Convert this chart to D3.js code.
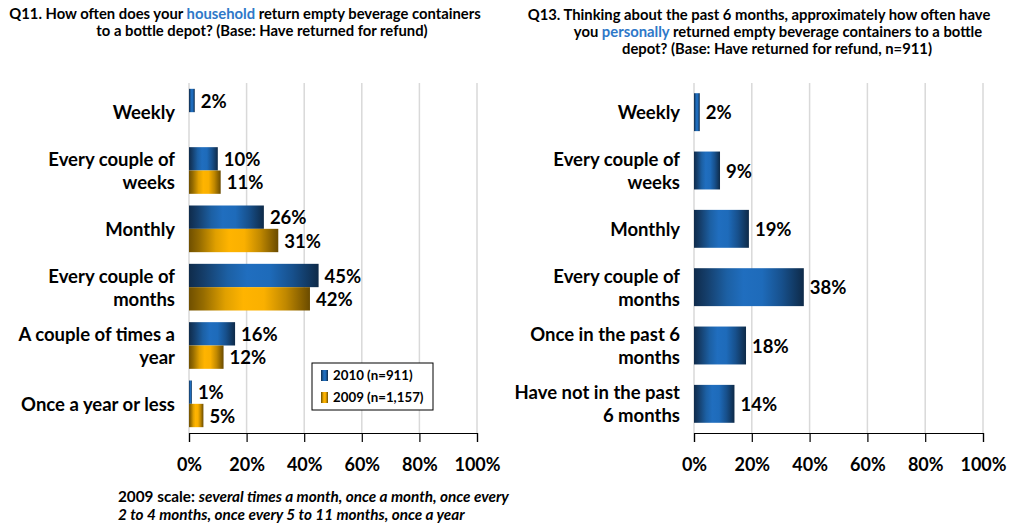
<!DOCTYPE html>
<html>
<head>
<meta charset="utf-8">
<script src="https://cdn.jsdelivr.net/npm/d3@7"></script>
<style>
  body { margin: 0; background: #fff; }
  svg text { font-family: Lato, 'Noto Sans', sans-serif; fill: #000; }
</style>
</head>
<body>
<svg id="chart" width="1010" height="525"></svg>
<script>
// Q11 household (left)
const q11Categories = ['Weekly', 'Every couple of weeks', 'Monthly', 'Every couple of months', 'A couple of times a year', 'Once a year or less']
const q11Labels = [['Weekly'], ['Every couple of', 'weeks'], ['Monthly'], ['Every couple of', 'months'], ['A couple of times a', 'year'], ['Once a year or less']]
const q11Values2010 = [2, 10, 26, 45, 16, 1]
const q11Values2009 = [null, 11, 31, 42, 12, 5]
const seriesNames = ['2010 (n=911)', '2009 (n=1,157)']

// Q13 personally (right)
const q13Categories = ['Weekly', 'Every couple of weeks', 'Monthly', 'Every couple of months', 'Once in the past 6 months', 'Have not in the past 6 months']
const q13Labels = [['Weekly'], ['Every couple of', 'weeks'], ['Monthly'], ['Every couple of', 'months'], ['Once in the past 6', 'months'], ['Have not in the past', '6 months']]
const q13Values = [2, 9, 19, 38, 18, 14]

const xTicks = [0, 20, 40, 60, 80, 100]

const svg = d3.select('#chart')
const defs = svg.append('defs')

function addGradient (id, stops) {
  let g = defs.append('linearGradient').attr('id', id)
    .attr('x1', '0%').attr('x2', '100%').attr('y1', '0%').attr('y2', '0%')
  stops.forEach(function (s) {
    g.append('stop').attr('offset', s[0]).attr('stop-color', s[1])
  })
}
addGradient('blueGrad', [[0, '#0f2b4b'], [0.12, '#153f6c'], [0.3, '#1c60a4'], [0.45, '#206ebf'], [0.62, '#1e6bba'], [0.8, '#17508c'], [1, '#0e2a48']])
addGradient('goldGrad', [[0, '#6f4f00'], [0.12, '#966c00'], [0.3, '#e0a000'], [0.45, '#ffb400'], [0.62, '#fab000'], [0.8, '#c08800'], [1, '#6a4b00']])
const fills = ['url(#blueGrad)', 'url(#goldGrad)']

const plotTop = 83
const plotBottom = 433

function drawFrame (x, y, labels) {
  let g = svg.append('g')
  // gridlines
  g.selectAll('line.grid')
    .data(xTicks)
    .enter().append('line')
    .attr('x1', function (d) { return x(d) })
    .attr('x2', function (d) { return x(d) })
    .attr('y1', plotTop)
    .attr('y2', plotBottom)
    .attr('stroke', '#d9d9d9')
    .attr('stroke-width', 1.5)

  // bottom axis
  let axis = g.append('g')
    .attr('transform', 'translate(0,' + plotBottom + ')')
    .call(d3.axisBottom(x).tickValues(xTicks).tickSize(9).tickPadding(16)
      .tickFormat(function (d) { return d + '%' }))
  axis.select('.domain').attr('stroke', '#000').attr('stroke-width', 1.2)
  axis.selectAll('.tick line').attr('stroke', '#000').attr('stroke-width', 1.2)
  axis.selectAll('.tick text')
    .style('font-family', 'Lato, sans-serif')
    .style('font-size', '18px')
    .style('font-weight', 700)
    .attr('fill', '#000')

  // category labels
  let lab = g.selectAll('text.cat')
    .data(labels)
    .enter().append('text')
    .attr('class', 'cat')
    .attr('text-anchor', 'end')
    .style('font-size', '18.5px')
    .style('font-weight', 700)
  lab.each(function (d, i) {
    let cy = y(y.domain()[i]) + y.bandwidth() / 2
    let n = d.length
    let t = d3.select(this)
    d.forEach(function (line, k) {
      t.append('tspan')
        .attr('x', x(0) - 14)
        .attr('y', cy + (k - (n - 1) / 2) * 23 + 7)
        .text(line)
    })
  })
}

// ---- left chart
let xL = d3.scaleLinear().domain([0, 100]).range([189, 477])
let yL = d3.scaleBand().domain(q11Categories).range([plotTop, plotBottom]).paddingInner(0.2).paddingOuter(0.1)
let ySub = d3.scaleBand().domain(seriesNames).range([0, yL.bandwidth()])

drawFrame(xL, yL, q11Labels)

let leftRows = []
q11Categories.forEach(function (c, i) {
  leftRows.push({ cat: c, series: seriesNames[0], value: q11Values2010[i], s: 0 })
  if (q11Values2009[i] !== null) leftRows.push({ cat: c, series: seriesNames[1], value: q11Values2009[i], s: 1 })
})

let barsL = svg.append('g')
barsL.selectAll('rect')
  .data(leftRows)
  .enter().append('rect')
  .attr('x', xL(0))
  .attr('y', function (d) { return yL(d.cat) + ySub(d.series) })
  .attr('width', function (d) { return xL(d.value) - xL(0) })
  .attr('height', ySub.bandwidth())
  .attr('fill', function (d) { return fills[d.s] })

barsL.selectAll('text')
  .data(leftRows)
  .enter().append('text')
  .attr('x', function (d) { return xL(d.value) + 6 })
  .attr('y', function (d) { return yL(d.cat) + ySub(d.series) + ySub.bandwidth() / 2 + 7 })
  .style('font-size', '18.5px')
  .style('font-weight', 700)
  .text(function (d) { return d.value + '%' })

// legend
let leg = svg.append('g').attr('transform', 'translate(312,363)')
leg.append('rect').attr('width', 121).attr('height', 47)
  .attr('fill', '#fff').attr('stroke', '#000').attr('stroke-width', 1)
seriesNames.forEach(function (s, i) {
  leg.append('rect').attr('x', 9).attr('y', 7 + i * 22).attr('width', 7).attr('height', 11)
    .attr('fill', fills[i])
  leg.append('text').attr('x', 21).attr('y', 17 + i * 22)
    .style('font-size', '13.3px').style('font-weight', 700)
    .text(s)
})

// ---- right chart
let xR = d3.scaleLinear().domain([0, 100]).range([694, 983])
let yR = d3.scaleBand().domain(q13Categories).range([plotTop, plotBottom]).paddingInner(0.35).paddingOuter(0.175)

drawFrame(xR, yR, q13Labels)

let barsR = svg.append('g')
barsR.selectAll('rect')
  .data(q13Values)
  .enter().append('rect')
  .attr('x', xR(0))
  .attr('y', function (d, i) { return yR(q13Categories[i]) })
  .attr('width', function (d) { return xR(d) - xR(0) })
  .attr('height', yR.bandwidth())
  .attr('fill', fills[0])

barsR.selectAll('text')
  .data(q13Values)
  .enter().append('text')
  .attr('x', function (d) { return xR(d) + 6 })
  .attr('y', function (d, i) { return yR(q13Categories[i]) + yR.bandwidth() / 2 + 7 })
  .style('font-size', '18.5px')
  .style('font-weight', 700)
  .text(function (d) { return d + '%' })

// ---- titles
function title (x, y, parts) {
  let t = svg.append('text').attr('x', x).attr('y', y).attr('text-anchor', 'middle')
    .style('font-size', '14.8px').style('font-weight', 700)
  parts.forEach(function (p) {
    t.append('tspan').attr('fill', p[1] ? '#2e78c8' : '#000').text(p[0])
  })
}
title(245, 19, [['Q11. How often does your '], ['household', true], [' return empty beverage containers']])
title(262, 36, [['to a bottle depot? (Base: Have returned for refund)']])
title(759, 20, [['Q13. Thinking about the past 6 months, approximately how often have']])
title(778, 37, [['you '], ['personally', true], [' returned empty beverage containers to a bottle']])
title(777, 54, [['depot? (Base: Have returned for refund, n=911)']])

// ---- footnote
let fn = svg.append('g').style('font-size', '15.3px').style('font-weight', 700)
let f1 = fn.append('text').attr('x', 118).attr('y', 502)
f1.append('tspan').text('2009 scale: ')
f1.append('tspan').style('font-style', 'italic').text('several times a month, once a month, once every')
fn.append('text').attr('x', 118).attr('y', 520).style('font-style', 'italic')
  .text('2 to 4 months, once every 5 to 11 months, once a year')
</script>
</body>
</html>
